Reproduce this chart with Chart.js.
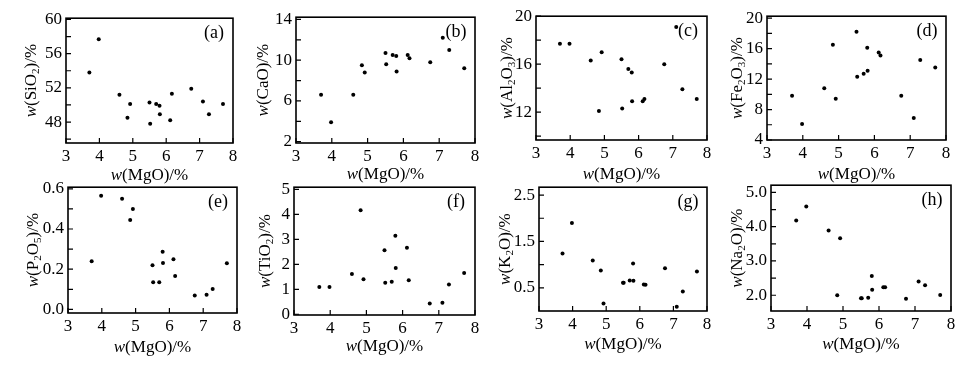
<!DOCTYPE html>
<html>
<head>
<meta charset="utf-8">
<script src="https://cdn.jsdelivr.net/npm/chart.js@4.4.1/dist/chart.umd.min.js"></script>
<style>
  body { margin: 0; background: #fff; }
  #wrap { position: relative; width: 964px; height: 366px; overflow: hidden; background: #fff; }
  #wrap canvas { position: absolute; }
</style>
</head>
<body>
<div id="wrap"></div>
<script>
// w(MgO)/% of the 16 samples, shared x of every panel
const mgo = [3.70, 3.98, 4.60, 4.84, 4.92, 5.50, 5.52, 5.70, 5.80, 5.81, 6.12, 6.17, 6.75, 7.10, 7.28, 7.70]

const sio2 = [53.8, 57.7, 51.2, 48.5, 50.1, 50.3, 47.8, 50.1, 49.9, 48.9, 48.2, 51.3, 51.9, 50.4, 48.9, 50.1]
const cao = [6.6, 3.9, 6.6, 9.5, 8.8, 10.7, 9.6, 10.5, 10.4, 8.9, 10.5, 10.2, 9.8, 12.2, 11.0, 9.2]
const al2o3 = [17.7, 17.7, 16.3, 12.1, 17.0, 16.4, 12.3, 15.6, 15.3, 12.9, 12.9, 13.1, 16.0, 19.1, 13.9, 13.1]
const fe2o3 = [9.8, 6.1, 10.8, 16.5, 9.4, 18.2, 12.3, 12.7, 16.1, 13.1, 15.5, 15.1, 9.8, 6.9, 14.5, 13.5]
const p2o5 = [0.24, 0.565, 0.55, 0.445, 0.50, 0.22, 0.135, 0.135, 0.287, 0.231, 0.25, 0.166, 0.069, 0.073, 0.102, 0.229]
const tio2 = [1.09, 1.09, 1.61, 4.17, 1.40, 2.56, 1.26, 1.30, 3.14, 1.85, 2.66, 1.36, 0.43, 0.46, 1.19, 1.65]
const k2o = [1.24, 1.90, 1.09, 0.875, 0.16, 0.61, 0.61, 0.66, 1.025, 0.655, 0.57, 0.565, 0.92, 0.09, 0.42, 0.85]
const na2o = [4.18, 4.59, 3.89, 2.00, 3.66, 1.91, 1.91, 1.93, 2.56, 2.16, 2.23, 2.23, 1.90, 2.40, 2.29, 2.01]

// tick values and labels ('' = unlabelled minor tick)
const xTicks = [3, 4, 5, 6, 7, 8]
const xLabels = ['3', '4', '5', '6', '7', '8']
const sio2Ticks = [46, 48, 50, 52, 54, 56, 58, 60]
const sio2Labels = ['', '48', '', '52', '', '56', '', '60']
const caoTicks = [2, 4, 6, 8, 10, 12, 14]
const caoLabels = ['2', '', '6', '', '10', '', '14']
const al2o3Ticks = [10, 12, 14, 16, 18, 20]
const al2o3Labels = ['', '12', '', '16', '', '20']
const fe2o3Ticks = [4, 6, 8, 10, 12, 14, 16, 18, 20]
const fe2o3Labels = ['4', '', '8', '', '12', '', '16', '', '20']
const p2o5Ticks = [0, 0.1, 0.2, 0.3, 0.4, 0.5, 0.6]
const p2o5Labels = ['0.0', '', '0.2', '', '0.4', '', '0.6']
const tio2Ticks = [0, 1, 2, 3, 4, 5]
const tio2Labels = ['0', '1', '2', '3', '4', '5']
const k2oTicks = [0.5, 1.0, 1.5, 2.0, 2.5]
const k2oLabels = ['0.5', '', '1.5', '', '2.5']
const na2oTicks = [2.0, 2.5, 3.0, 3.5, 4.0, 4.5, 5.0]
const na2oLabels = ['2.0', '', '3.0', '', '4.0', '', '5.0']

const xTitle = 'w(MgO)/%'

const panels = [
  { tag: '(a)', y: sio2, ticks: sio2Ticks, labels: sio2Labels, min: 45.55, max: 60.15, title: 'w(SiO_2)/%', box: [66, 16, 233, 143], yOff: 36, xOff: 31 },
  { tag: '(b)', y: cao, ticks: caoTicks, labels: caoLabels, min: 1.87, max: 14.22, title: 'w(CaO)/%', box: [296, 15, 475, 143], yOff: 34, xOff: 30 },
  { tag: '(c)', y: al2o3, ticks: al2o3Ticks, labels: al2o3Labels, min: 9.67, max: 20.0, title: 'w(Al_2O_3)/%', box: [536, 14, 707, 140], yOff: 30, xOff: 33 },
  { tag: '(d)', y: fe2o3, ticks: fe2o3Ticks, labels: fe2o3Labels, min: 4, max: 20.25, title: 'w(Fe_2O_3)/%', box: [767, 14, 946, 140], yOff: 31, xOff: 33 },
  { tag: '(e)', y: p2o5, ticks: p2o5Ticks, labels: p2o5Labels, min: -0.018, max: 0.608, title: 'w(P_2O_5)/%', box: [68, 185, 237, 313], yOff: 36, xOff: 33 },
  { tag: '(f)', y: tio2, ticks: tio2Ticks, labels: tio2Labels, min: -0.03, max: 5.09, title: 'w(TiO_2)/%', box: [294, 185, 475, 315], yOff: 30, xOff: 30 },
  { tag: '(g)', y: k2o, ticks: k2oTicks, labels: k2oLabels, min: 0, max: 2.67, title: 'w(K_2O)/%', box: [539, 185, 707, 311], yOff: 35, xOff: 32 },
  { tag: '(h)', y: na2o, ticks: na2oTicks, labels: na2oLabels, min: 1.54, max: 5.21, title: 'w(Na_2O)/%', box: [771, 183, 951, 311], yOff: 35, xOff: 32 }
]

const FAM = '"Liberation Serif", "Times New Roman", serif'
const PAD_L = 60, PAD_T = 12, PAD_R = 12, PAD_B = 45

// split 'w(Al_2O_3)/%' into runs: leading w italic, _d subscript
function runsOf(str) {
  const runs = []
  for (let i = 0; i < str.length; i++) {
    let st = 'n', t = str[i]
    if (i === 0 && t === 'w') st = 'i'
    else if (t === '_') { st = 's'; t = str[++i] }
    const last = runs[runs.length - 1]
    if (last && last.st === st) last.t += t
    else runs.push({ t, st })
  }
  return runs
}

function drawRich(ctx, str, cx, cy, size, rotate) {
  const fontOf = st => st === 'i' ? `italic ${size}px ${FAM}` : st === 's' ? `${Math.round(size * 0.62)}px ${FAM}` : `${size}px ${FAM}`
  const runs = runsOf(str)
  let total = 0
  runs.forEach(r => { ctx.font = fontOf(r.st); r.w = ctx.measureText(r.t).width; total += r.w })
  ctx.save()
  ctx.translate(cx, cy)
  if (rotate) ctx.rotate(-Math.PI / 2)
  ctx.fillStyle = '#000'
  ctx.textBaseline = 'alphabetic'
  ctx.textAlign = 'left'
  let x = -total / 2
  runs.forEach(r => {
    ctx.font = fontOf(r.st)
    ctx.fillText(r.t, x, size * 0.34 + (r.st === 's' ? size * 0.18 : 0))
    x += r.w
  })
  ctx.restore()
}

const framePlugin = {
  id: 'frame',
  afterDraw(chart, args, opts) {
    const { ctx, chartArea: a, scales } = chart
    const p = opts.panel
    ctx.save()
    ctx.strokeStyle = '#000'
    ctx.lineWidth = 1.6
    ctx.strokeRect(a.left, a.top, a.right - a.left, a.bottom - a.top)
    // inward ticks
    ctx.lineWidth = 1.2
    ctx.beginPath()
    scales.x.ticks.forEach(t => {
      const px = scales.x.getPixelForValue(t.value)
      ctx.moveTo(px, a.bottom)
      ctx.lineTo(px, a.bottom - 5)
    })
    scales.y.ticks.forEach(t => {
      const py = scales.y.getPixelForValue(t.value)
      ctx.moveTo(a.left, py)
      ctx.lineTo(a.left + 5, py)
    })
    ctx.stroke()
    // panel tag
    ctx.fillStyle = '#000'
    ctx.font = `18px ${FAM}`
    ctx.textAlign = 'center'
    ctx.textBaseline = 'middle'
    ctx.fillText(p.tag, a.right - 19, a.top + 15)
    ctx.restore()
    drawRich(ctx, xTitle, (a.left + a.right) / 2, a.bottom + p.xOff, 17, false)
    drawRich(ctx, p.title, a.left - p.yOff, (a.top + a.bottom) / 2, 17, true)
  }
}

const wrap = document.getElementById('wrap')

panels.forEach(p => {
  const [L, T, R, B] = p.box
  const cv = document.createElement('canvas')
  cv.width = (R - L) + PAD_L + PAD_R
  cv.height = (B - T) + PAD_T + PAD_B
  cv.style.left = (L - PAD_L) + 'px'
  cv.style.top = (T - PAD_T) + 'px'
  wrap.appendChild(cv)

  new Chart(cv, {
    type: 'scatter',
    data: {
      datasets: [{
        data: mgo.map((x, i) => ({ x: x, y: p.y[i] })),
        pointRadius: 2,
        pointBackgroundColor: '#000',
        pointBorderWidth: 0
      }]
    },
    options: {
      responsive: false,
      animation: false,
      events: [],
      layout: { padding: { top: PAD_T, right: PAD_R, left: 0, bottom: 0 } },
      plugins: { legend: { display: false }, tooltip: { enabled: false }, frame: { panel: p } },
      scales: {
        x: {
          type: 'linear', min: 3, max: 8,
          afterBuildTicks: s => { s.ticks = xTicks.map(v => ({ value: v })) },
          afterFit: s => { s.height = PAD_B },
          ticks: { autoSkip: false, maxRotation: 0, padding: 3, color: '#000', font: { family: FAM, size: 17 }, callback: (v, i) => xLabels[i] },
          grid: { display: false, drawTicks: false },
          border: { display: false }
        },
        y: {
          type: 'linear', min: p.min, max: p.max,
          afterBuildTicks: s => { s.ticks = p.ticks.map(v => ({ value: v })) },
          afterFit: s => { s.width = PAD_L },
          ticks: { autoSkip: false, padding: 4, color: '#000', font: { family: FAM, size: 17 }, callback: (v, i) => p.labels[i] },
          grid: { display: false, drawTicks: false },
          border: { display: false }
        }
      }
    },
    plugins: [framePlugin]
  })
})
</script>
</body>
</html>
